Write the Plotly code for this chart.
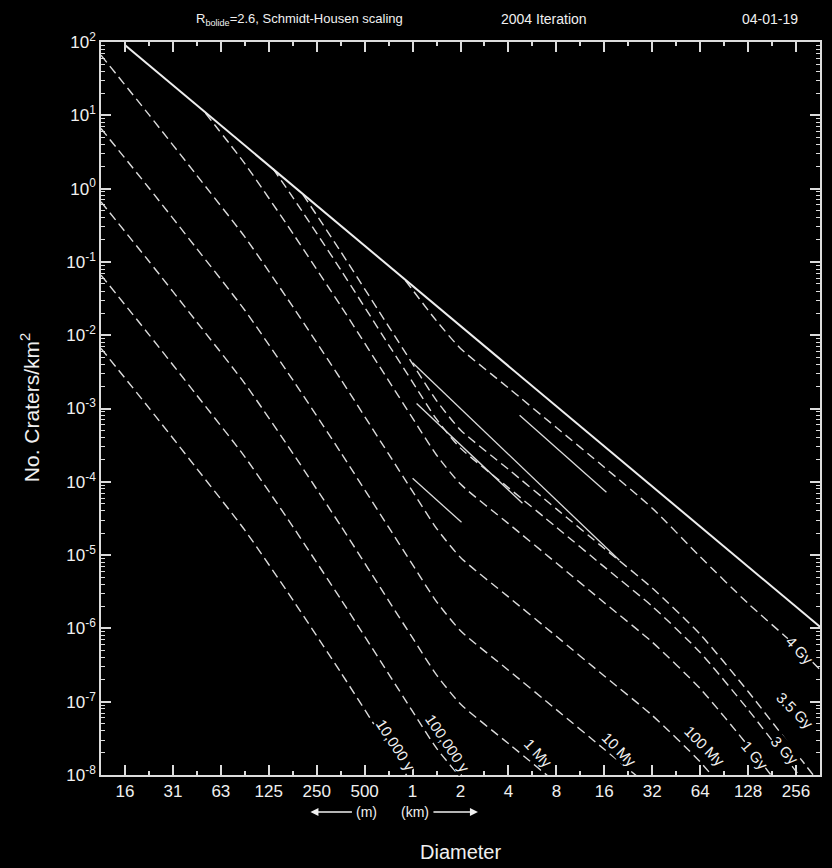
import math
import plotly.graph_objects as go

# ---------------- data (diameter in km, N = craters / km^2) ----------------
sat_D = [0.0156, 0.125, 1.0, 8.0, 64.0, 362.0]
sat_N = [91.0, 2.07, 0.0471, 1.07e-3, 2.45e-5, 1.05e-6]

iso_10ky_D = [0.01105, 0.0221, 0.0442, 0.0884, 0.177, 0.354, 0.707, 1.0]
iso_10ky_N = [6.6e-3, 1.02e-3, 1.51e-4, 2.19e-5, 2.45e-6, 2.51e-7, 2.40e-8, 7.4e-9]

iso_100ky_D = [0.01105, 0.0221, 0.0442, 0.0884, 0.177, 0.354, 0.707, 1.0, 1.41, 2.0]
iso_100ky_N = [6.6e-2, 1.02e-2, 1.51e-3, 2.19e-4, 2.45e-5, 2.51e-6, 2.40e-7, 7.4e-8, 2.34e-8, 9.3e-9]

iso_1My_D = [0.01105, 0.0221, 0.0442, 0.0884, 0.177, 0.354, 0.707, 1.0, 1.41, 2.0, 4.0, 8.0]
iso_1My_N = [0.66, 0.102, 1.51e-2, 2.19e-3, 2.45e-4, 2.51e-5, 2.40e-6, 7.4e-7, 2.34e-7, 9.3e-8, 2.69e-8, 7.8e-9]

iso_10My_D = [0.01105, 0.0221, 0.0442, 0.0884, 0.177, 0.354, 0.707, 1.0, 1.41, 2.0, 4.0, 8.0, 16.0, 32.0]
iso_10My_N = [6.6, 1.02, 0.151, 2.19e-2, 2.45e-3, 2.51e-4, 2.40e-5, 7.4e-6, 2.34e-6, 9.3e-7, 2.69e-7, 7.8e-8, 2.24e-8, 6.5e-9]

iso_100My_D = [0.01105, 0.0221, 0.0442, 0.0884, 0.177, 0.354, 0.707, 1.0, 1.41, 2.0, 4.0, 8.0, 16.0, 32.0, 64.0, 128.0]
iso_100My_N = [66.0, 10.2, 1.51, 0.219, 2.45e-2, 2.51e-3, 2.40e-4, 7.4e-5, 2.34e-5, 9.3e-6, 2.69e-6, 7.8e-7, 2.24e-7, 6.5e-8, 1.51e-8, 2.5e-9]

iso_1Gy_D = [0.05, 0.0884, 0.177, 0.354, 0.707, 1.0, 1.41, 2.0, 4.0, 8.0, 16.0, 32.0, 64.0, 128.0, 256.0]
iso_1Gy_N = [10.7, 2.19, 0.245, 2.51e-2, 2.40e-3, 7.4e-4, 2.34e-4, 9.3e-5, 2.69e-5, 7.8e-6, 2.24e-6, 6.5e-7, 1.51e-7, 2.5e-8, 3.6e-9]

iso_3Gy_D = [0.133, 0.177, 0.354, 0.707, 1.0, 1.41, 2.0, 4.0, 8.0, 16.0, 32.0, 64.0, 128.0, 256.0, 362.0]
iso_3Gy_N = [1.87, 0.76, 7.8e-2, 7.4e-3, 2.29e-3, 7.2e-4, 2.88e-4, 8.3e-5, 2.40e-5, 6.9e-6, 2.00e-6, 4.7e-7, 7.8e-8, 1.12e-8, 4.3e-9]

iso_35Gy_D = [0.205, 0.354, 0.707, 1.0, 1.41, 2.0, 4.0, 8.0, 16.0, 32.0, 64.0, 128.0, 256.0, 362.0]
iso_35Gy_N = [0.83, 0.138, 1.32e-2, 4.07e-3, 1.29e-3, 5.1e-4, 1.48e-4, 4.27e-5, 1.23e-5, 3.55e-6, 8.3e-7, 1.38e-7, 2.0e-8, 7.6e-9]

iso_4Gy_D = [0.9, 1.41, 2.0, 4.0, 8.0, 16.0, 32.0, 64.0, 128.0, 256.0, 362.0]
iso_4Gy_N = [5.6e-2, 1.58e-2, 6.6e-3, 1.91e-3, 5.5e-4, 1.58e-4, 4.37e-5, 9.5e-6, 2.19e-6, 5.75e-7, 2.75e-7]

# short solid segments in the 1-20 km region
segA_D = [4.7, 16.5]
segA_N = [8.1e-4, 7.2e-5]
segB_D = [1.0, 2.03]
segB_N = [1.12e-4, 2.8e-5]
segC_D = [1.0, 19.9]
segC_N = [4.2e-3, 8.5e-6]
segD_D = [1.06, 4.9]
segD_N = [1.17e-3, 5.1e-5]

iso_labels = ["10,000 y", "100,000 y", "1 My", "10 My", "100 My", "1 Gy", "3 Gy", "3.5 Gy", "4 Gy"]

x_tick_vals = [2.0 ** k for k in range(-6, 9)]
x_tick_text = ["16", "31", "63", "125", "250", "500", "1", "2", "4", "8", "16", "32", "64", "128", "256"]
y_tick_exp = [2, 1, 0, -1, -2, -3, -4, -5, -6, -7, -8]

# ---------------- figure ----------------
LC = "#dcdcdc"
TC = "#f0f0f0"
FONT = "Liberation Sans, Arial, sans-serif"
fig = go.Figure()

dash = "9px,5px"
isos = [
    (iso_10ky_D, iso_10ky_N), (iso_100ky_D, iso_100ky_N), (iso_1My_D, iso_1My_N),
    (iso_10My_D, iso_10My_N), (iso_100My_D, iso_100My_N), (iso_1Gy_D, iso_1Gy_N),
    (iso_3Gy_D, iso_3Gy_N), (iso_35Gy_D, iso_35Gy_N), (iso_4Gy_D, iso_4Gy_N),
]
for (d, n), name in zip(isos, iso_labels):
    fig.add_trace(go.Scatter(x=d, y=n, mode="lines", name=name,
                             line=dict(color=LC, width=1.4, dash=dash, shape="spline", smoothing=0.6),
                             showlegend=False, hoverinfo="skip"))

for d, n in [(segA_D, segA_N), (segB_D, segB_N), (segC_D, segC_N), (segD_D, segD_N)]:
    fig.add_trace(go.Scatter(x=d, y=n, mode="lines", line=dict(color=LC, width=1.3),
                             showlegend=False, hoverinfo="skip"))

fig.add_trace(go.Scatter(x=sat_D, y=sat_N, mode="lines", line=dict(color="#eeeeee", width=2.0),
                         showlegend=False, hoverinfo="skip"))

# plot area in pixels: x 101..822, y 42..775
L, R, T, B = 101, 822, 42, 775
def px(xp):
    return (xp - L) / (R - L)
def py(yp):
    return (B - yp) / (B - T)

def note(x, y, text, size=14, angle=0):
    fig.add_annotation(x=px(x), y=py(y), xref="paper", yref="paper", text=text,
                       xanchor="center", yanchor="middle", textangle=angle, showarrow=False,
                       font=dict(family=FONT, size=size, color=TC))

label_pos = [(397, 745, 57), (449, 743, 56), (540, 753, 47), (621, 749, 45), (707, 746, 45),
             (757, 755, 50), (787, 750, 47), (797, 710, 45), (802, 650, 47)]
for txt, (lx, ly, ang) in zip(iso_labels, label_pos):
    fig.add_annotation(x=px(lx), y=py(ly), xref="paper", yref="paper", text=txt,
                       xanchor="center", yanchor="middle",
                       textangle=ang, showarrow=False, bgcolor="black",
                       font=dict(family=FONT, size=15, color=TC), borderpad=0)

note(300, 19, "R<sub>bolide</sub>=2.6, Schmidt-Housen scaling", 13)
note(545, 19, "2004 Iteration", 14)
note(772, 19, "04-01-19", 14)
note(30, 408, "No. Craters/km<sup>2</sup>", 21, -90)
note(461, 852, "Diameter", 20)
note(367, 812, "(m)", 14)
note(416, 812, "(km)", 14)
fig.add_annotation(x=px(311), y=py(812), xref="paper", yref="paper", ax=43, ay=0, text="",
                   showarrow=True, arrowhead=2, arrowsize=1, arrowwidth=1.6, arrowcolor=TC)
fig.add_annotation(x=px(479), y=py(812), xref="paper", yref="paper", ax=-46, ay=0, text="",
                   showarrow=True, arrowhead=2, arrowsize=1, arrowwidth=1.6, arrowcolor=TC)

fig.update_layout(
    width=832, height=868,
    margin=dict(l=L, r=832 - R, t=T, b=868 - B),
    paper_bgcolor="black", plot_bgcolor="black",
    font=dict(family=FONT, color=TC),
    showlegend=False,
)
fig.update_xaxes(
    type="log", range=[math.log10(2 ** -6.5), math.log10(2 ** 8.5)],
    tickmode="array", tickvals=x_tick_vals, ticktext=x_tick_text,
    ticks="inside", ticklen=10, tickwidth=1.5, tickcolor=LC,
    showline=True, linecolor=LC, linewidth=1.5, mirror="ticks",
    showgrid=False, zeroline=False,
    tickfont=dict(family=FONT, size=17, color=TC),
    minor=dict(tickmode="array", tickvals=[2.0 ** (k + 0.5) for k in range(-6, 8)],
               ticks="inside", ticklen=4, tickwidth=1.5, tickcolor=LC, showgrid=False),
)
fig.update_yaxes(
    type="log", range=[-8, 2],
    tickmode="array", tickvals=[10.0 ** e for e in y_tick_exp],
    ticktext=["10<sup>%d</sup>" % e for e in y_tick_exp],
    ticks="inside", ticklen=10, tickwidth=1.5, tickcolor=LC,
    showline=True, linecolor=LC, linewidth=1.5, mirror="ticks",
    showgrid=False, zeroline=False,
    tickfont=dict(family=FONT, size=17, color=TC),
    minor=dict(dtick="D1", ticks="inside", ticklen=4, tickwidth=1, tickcolor=LC, showgrid=False),
)

fig.write_html("out.html", config={"displayModeBar": False},
               post_script="document.body.style.margin='0';document.body.style.background='black';")
